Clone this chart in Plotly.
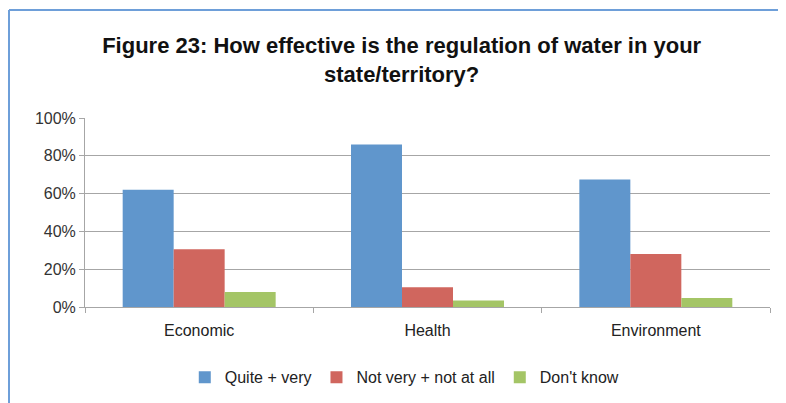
import plotly.graph_objects as go

categories = ["Economic", "Health", "Environment"]
quite_very = [62, 86, 67.5]
not_very = [30.5, 10.5, 28]
dont_know = [8, 3.5, 4.7]
series_names = ["Quite + very", "Not very + not at all", "Don't know"]
colors = ["#6096CC", "#D0665E", "#A4C566"]
y_ticks = [0, 20, 40, 60, 80, 100]
y_tick_labels = ["0%", "20%", "40%", "60%", "80%", "100%"]

fig = go.Figure()
for name, vals, col in zip(series_names, [quite_very, not_very, dont_know], colors):
    fig.add_trace(go.Bar(x=categories, y=vals, name=name, marker=dict(color=col, line=dict(width=0))))

W, H = 778, 395
L, R, T, B = 77, 16, 110, 96
font_family = "Liberation Sans, Arial, sans-serif"
fig.update_layout(
    width=W, height=H,
    margin=dict(l=L, r=R, t=T, b=B),
    paper_bgcolor="white", plot_bgcolor="white",
    barmode="group", bargap=0.33, bargroupgap=0,
    font=dict(family=font_family, size=16, color="#222"),
    title=dict(
        text="<b>Figure 23: How effective is the regulation of water in your<br>state/territory?</b>",
        x=0.506, xref="container", xanchor="center",
        y=0.885, yref="container", yanchor="top",
        font=dict(family=font_family, size=22, color="#111"),
    ),
    legend=dict(orientation="h", x=0.51, xref="container", xanchor="center",
                y=0.022, yref="container", yanchor="bottom",
                font=dict(size=16, color="#222"), itemwidth=30, traceorder="normal"),
    showlegend=True,
)
fig.update_yaxes(range=[0, 100], tickvals=y_ticks, ticktext=y_tick_labels,
                 showgrid=True, gridcolor="#A6A6A6", gridwidth=1,
                 showline=True, linecolor="#A6A6A6", linewidth=1,
                 ticks="outside", ticklen=5, tickcolor="#A6A6A6",
                 zeroline=False, tickfont=dict(size=16, color="#333"))
fig.update_xaxes(showline=True, linecolor="#A6A6A6", linewidth=1,
                 ticks="outside", ticklen=5, tickcolor="#A6A6A6",
                 tickson="boundaries", ticklabelstandoff=9,
                 tickfont=dict(size=16, color="#222"))

# outer light-blue frame (top and left edges visible)
pw, ph = W - L - R, H - T - B
fx = (1 - L) / pw
fig.add_shape(type="line", xref="paper", yref="paper",
              x0=fx, x1=(W - L + 5) / pw, y0=(H - B - 2) / ph, y1=(H - B - 2) / ph,
              line=dict(color="#6E9FD9", width=2))
fig.add_shape(type="line", xref="paper", yref="paper",
              x0=fx, x1=fx, y0=-(B + 5) / ph, y1=(H - B - 2) / ph,
              line=dict(color="#6E9FD9", width=2))

fig.write_html("out.html")
